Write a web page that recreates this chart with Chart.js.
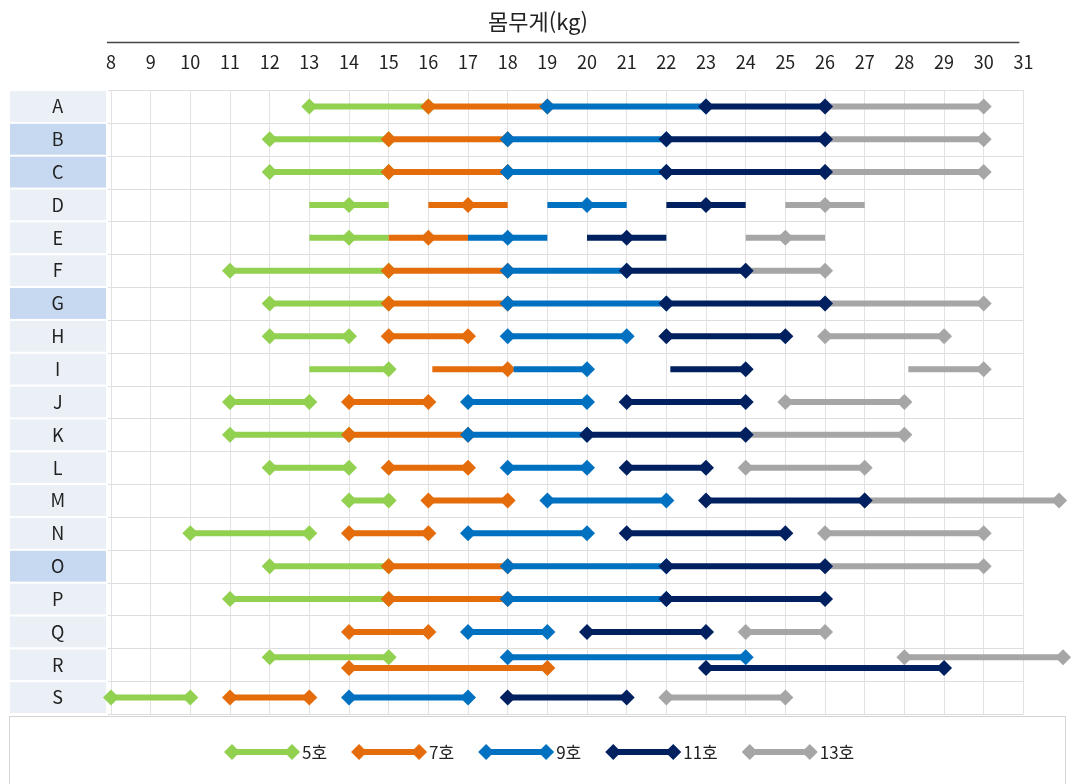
<!DOCTYPE html>
<html lang="ko">
<head>
<meta charset="utf-8">
<title>몸무게별 사이즈 범위</title>
<script src="https://cdn.jsdelivr.net/npm/chart.js@4.4.1/dist/chart.umd.min.js"></script>
<style>
  html, body { margin: 0; padding: 0; background: #ffffff; }
  #wrap { width: 1077px; height: 784px; position: relative; }
</style>
</head>
<body>
<div id="wrap"><canvas id="c" width="1077" height="784"></canvas></div>
<script>
// Rows (products) and weight axis
const categories = ['A','B','C','D','E','F','G','H','I','J','K','L','M','N','O','P','Q','R','S'];
const weightTicks = [8,9,10,11,12,13,14,15,16,17,18,19,20,21,22,23,24,25,26,27,28,29,30,31];
const highlighted = ['B','C','G','O'];
const sizeNames = ['5호','7호','9호','11호','13호'];

// Each entry: [from kg, to kg, ...diamond positions]; no diamond list = diamonds at both ends
const size5 = [[13,16],[12,15],[12,15],[13,15,14],[13,15,14],[11,15],[12,15],[12,14],[13,15,15],[11,13],
               [11,14],[12,14],[14,15],[10,13],[12,15],[11,15],null,[12,15],[8,10]];
const size7 = [[16,19],[15,18],[15,18],[16,18,17],[15,17,16],[15,18],[15,18],[15,17],[16.1,18,18],[14,16],
               [14,17],[15,17],[16,18],[14,16],[15,18],[15,18],[14,16],[14,19],[11,13]];
const size9 = [[19,23],[18,22],[18,22],[19,21,20],[17,19,18],[18,21],[18,22],[18,21],[18.15,20,20],[17,20],
               [17,20],[18,20],[19,22],[17,20],[18,22],[18,22],[17,19],[18,24],[14,17]];
const size11 = [[23,26],[22,26],[22,26],[22,24,23],[20,22,21],[21,24],[22,26],[22,25],[22.1,24,24],[21,24],
                [20,24],[21,23],[23,27],[21,25],[22,26],[22,26],[20,23],[23,29],[18,21]];
const size13 = [[26,30],[26,30],[26,30],[25,27,26],[24,26,25],[24,26],[26,30],[26,29],[28.1,30,30],[25,28],
                [24,28],[24,27],[27,31.9],[26,30],[26,30],null,[24,26],[28,32],[22,25]];

// ---- drawing setup ----
const FONT = "'Noto Sans CJK KR', 'Noto Sans', sans-serif";
const COLORS = ['#92D050', '#E46C0A', '#0070C0', '#002060', '#A6A6A6'];
const SERIES = [size5, size7, size9, size11, size13];
const DRAW_ORDER = [4, 3, 2, 1, 5];          // 11호 on top, 13호 underneath
const SPLIT_ROW = categories.indexOf('R');   // row R carries two lanes
const SPLIT_SHIFT = [-0.23, 0.1, -0.23, 0.1, -0.23];

function buildPoints(segments, shift) {
  const pts = [];
  segments.forEach((seg, row) => {
    if (!seg) return;
    const from = seg[0], to = seg[1], marks = seg.slice(2);
    const y = row === SPLIT_ROW ? row + shift : row;
    const xs = [from, to].concat(marks).filter((v, i, a) => a.indexOf(v) === i).sort((a, b) => a - b);
    xs.forEach(x => {
      const mark = marks.length ? marks.includes(x) : (x === from || x === to);
      pts.push({ x, y, mark });
    });
    pts.push({ x: null, y: null, mark: false });
  });
  return pts;
}

const datasets = SERIES.map((seg, i) => ({
  label: sizeNames[i],
  data: buildPoints(seg, SPLIT_SHIFT[i]),
  borderColor: COLORS[i],
  backgroundColor: COLORS[i],
  borderWidth: 6,
  borderCapStyle: 'butt',
  tension: 0,
  fill: false,
  spanGaps: false,
  clip: false,
  order: DRAW_ORDER[i],
  pointStyle: 'rectRot',
  pointBackgroundColor: COLORS[i],
  pointBorderWidth: 0,
  pointRadius: ctx => (ctx.raw && ctx.raw.mark ? 8 : 0),
  pointHoverRadius: ctx => (ctx.raw && ctx.raw.mark ? 8 : 0)
}));

// Label cells, row rules, title rule and the boxed legend
const sheetFrame = {
  id: 'sheetFrame',
  beforeDraw(chart) {
    const { ctx, chartArea } = chart;
    const ys = chart.scales.y, xs = chart.scales.x;
    ctx.save();
    ctx.fillStyle = '#ffffff';
    ctx.fillRect(0, 0, chart.width, chart.height);
    categories.forEach((c, i) => {
      const top = ys.getPixelForValue(i - 0.5), bot = ys.getPixelForValue(i + 0.5);
      ctx.fillStyle = highlighted.includes(c) ? '#C6D9F1' : '#EBF0F7';
      ctx.fillRect(10, top + 1, 96, bot - top - 2);
    });
    ctx.strokeStyle = '#DDDDDD';
    ctx.lineWidth = 1;
    const right = xs.getPixelForValue(weightTicks[weightTicks.length - 1]);
    for (let i = 0; i <= categories.length; i++) {
      const y = Math.round(ys.getPixelForValue(i - 0.5)) + 0.5;
      ctx.beginPath();
      ctx.moveTo(chartArea.left - 3, y);
      ctx.lineTo(right, y);
      ctx.stroke();
    }
    ctx.restore();
  },
  afterDraw(chart) {
    const { ctx } = chart;
    const xs = chart.scales.x;
    ctx.save();
    // rule under the axis title
    ctx.strokeStyle = '#444444';
    ctx.lineWidth = 1.5;
    ctx.beginPath();
    ctx.moveTo(xs.left - 4, 42.5);
    ctx.lineTo(xs.getPixelForValue(31) - 4, 42.5);
    ctx.stroke();
    // legend box
    ctx.strokeStyle = '#D4D4D4';
    ctx.lineWidth = 1;
    ctx.fillStyle = '#ffffff';
    ctx.fillRect(9.5, 716.5, 1056, 80);
    ctx.strokeRect(9.5, 716.5, 1056, 80);
    // legend entries
    ctx.font = '17px ' + FONT;
    ctx.textBaseline = 'middle';
    ctx.textAlign = 'left';
    const ly = 752;
    let x = 232;
    sizeNames.forEach((name, i) => {
      const x2 = x + 60;
      ctx.strokeStyle = COLORS[i];
      ctx.lineWidth = 6;
      ctx.lineCap = 'butt';
      ctx.beginPath();
      ctx.moveTo(x, ly);
      ctx.lineTo(x2, ly);
      ctx.stroke();
      ctx.fillStyle = COLORS[i];
      [x, x2].forEach(px => {
        ctx.beginPath();
        ctx.moveTo(px - 8, ly);
        ctx.lineTo(px, ly - 8);
        ctx.lineTo(px + 8, ly);
        ctx.lineTo(px, ly + 8);
        ctx.closePath();
        ctx.fill();
      });
      ctx.fillStyle = '#222222';
      const tx = x2 + 10;
      ctx.fillText(name, tx, ly + 1);
      x = tx + ctx.measureText(name).width + 32;
    });
    ctx.restore();
  }
};

new Chart(document.getElementById('c'), {
  type: 'line',
  data: { datasets },
  plugins: [sheetFrame],
  options: {
    responsive: false,
    animation: false,
    events: [],
    devicePixelRatio: 1,
    layout: { padding: { left: 0, right: 1, top: 0, bottom: 70 } },
    plugins: {
      legend: { display: false },
      tooltip: { enabled: false },
      title: {
        display: true,
        text: '몸무게(kg)',
        color: '#222222',
        font: { family: FONT, size: 22, weight: 'normal' },
        padding: { top: 8, bottom: 4 }
      }
    },
    scales: {
      x: {
        type: 'linear',
        position: 'top',
        min: 8,
        max: 32.15,
        afterBuildTicks: s => { s.ticks = weightTicks.map(v => ({ value: v })); },
        afterFit: s => { s.height = 51.6; },
        ticks: {
          autoSkip: false,
          maxRotation: 0,
          padding: 17,
          color: '#222222',
          font: { family: FONT, size: 18 }
        },
        grid: { color: '#E2E2E2', drawTicks: false },
        border: { display: false }
      },
      y: {
        type: 'linear',
        reverse: true,
        min: -0.5,
        max: categories.length - 0.5,
        afterBuildTicks: s => { s.ticks = categories.map((c, i) => ({ value: i })); },
        afterFit: s => { s.width = 111; },
        ticks: {
          autoSkip: false,
          crossAlign: 'center',
          padding: 38,
          color: '#222222',
          font: { family: FONT, size: 18 },
          callback: v => categories[v]
        },
        grid: { display: false },
        border: { display: false }
      }
    }
  }
});
</script>
</body>
</html>
